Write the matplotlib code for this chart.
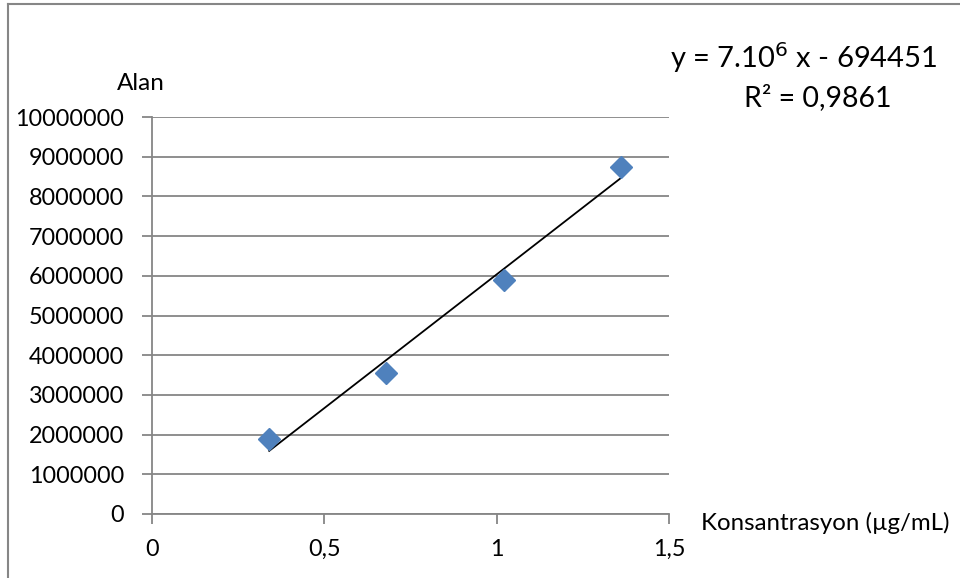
import numpy as np
import matplotlib
matplotlib.use("Agg")
import matplotlib.pyplot as plt
from matplotlib.lines import Line2D

plt.rcParams['font.family'] = ['Lato', 'DejaVu Sans']

# Calibration data
konsantrasyon = [0.34, 0.68, 1.02, 1.36]          # µg/mL
alan = [1900000, 3550000, 5900000, 8750000]       # peak area

x_ticks = [0, 0.5, 1, 1.5]
x_tick_labels = ["0", "0,5", "1", "1,5"]
y_ticks = list(range(0, 10000001, 1000000))

equation_text = "y = 7.10$^{6}$ x - 694451"
r2_text = "R² = 0,9861"

grid_col = "#868686"
marker_col = "#4F81BD"

fig = plt.figure(figsize=(9.6, 5.78), dpi=100)
ax = fig.add_axes([152/960, 1 - 514/578, (669 - 152)/960, (514 - 117)/578])

# linear trendline (least squares) over the data range
slope, intercept = np.polyfit(konsantrasyon, alan, 1)
xs = np.array([min(konsantrasyon), max(konsantrasyon)])
ax.plot(xs, slope * xs + intercept, color="black", lw=1.3, zorder=3)

ax.plot(konsantrasyon, alan, linestyle="none", marker="D", markersize=11.5,
        color=marker_col, markeredgecolor=marker_col, zorder=4, clip_on=False)

ax.set_xlim(0, 1.5)
ax.set_ylim(0, 10000000)
ax.set_xticks(x_ticks)
ax.set_xticklabels(x_tick_labels)
ax.set_yticks(y_ticks)
ax.set_yticklabels([str(v) for v in y_ticks])

for v in y_ticks:
    ax.axhline(v, color=grid_col, lw=1.3, zorder=1)

for s in ["top", "right"]:
    ax.spines[s].set_visible(False)
for s in ["left", "bottom"]:
    ax.spines[s].set_color(grid_col)
    ax.spines[s].set_linewidth(1.3)

ax.tick_params(axis="both", colors=grid_col, labelcolor="black", labelsize=16.8,
               length=7, width=1.3, direction="out")
ax.tick_params(axis="y", pad=13)
ax.tick_params(axis="x", pad=11)

fig.text(141/960, 1 - 83/578, "Alan", ha="center", va="center", fontsize=17.5)
fig.text(825/960, 1 - 523/578, "Konsantrasyon (µg/mL)", ha="center", va="center", fontsize=17.3)
fig.text(804/960, 1 - 58/578, equation_text, ha="center", va="center", fontsize=21)
fig.text(818/960, 1 - 98/578, r2_text, ha="center", va="center", fontsize=20.5)

# chart frame
fig.add_artist(Line2D([8/960, 8/960], [0, 1 - 4/578], color=grid_col, lw=1.5, transform=fig.transFigure))
fig.add_artist(Line2D([8/960, 1], [1 - 4/578, 1 - 4/578], color=grid_col, lw=1.5, transform=fig.transFigure))

fig.savefig("out.png", dpi=100)
